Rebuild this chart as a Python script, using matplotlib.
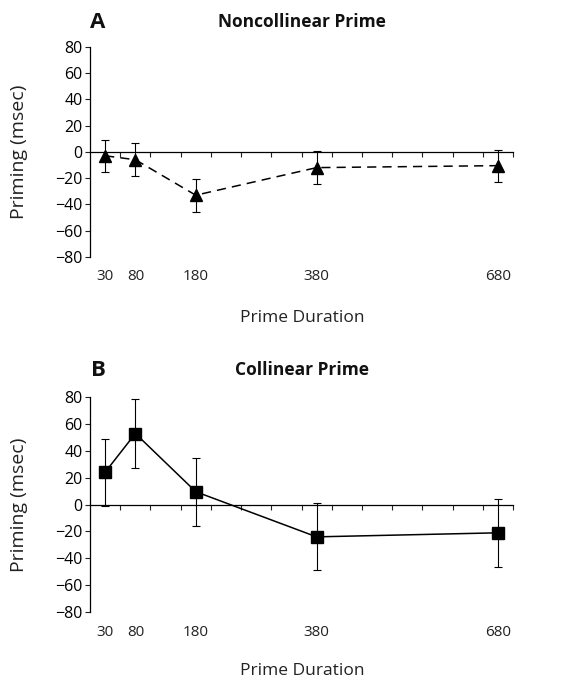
import numpy as np
import matplotlib.pyplot as plt
from matplotlib import transforms

plt.rcParams['font.family'] = ['Open Sans', 'DejaVu Sans']

# Data
durations = [30, 80, 180, 380, 680]
noncollinear = [-3, -6, -33, -12, -10.5]
noncollinear_err = [12.3, 12.6, 12.7, 12.3, 12.2]
collinear = [24, 52.7, 9.5, -24, -21]
collinear_err = [24.8, 25.3, 25.3, 24.9, 25.3]
yticks = [80, 60, 40, 20, 0, -20, -40, -60, -80]

W, H = 570, 684
fig = plt.figure(figsize=(W / 100, H / 100), dpi=100)
ax_a = fig.add_axes([0.158, 0.6243, 0.742, 0.3074])
ax_b = fig.add_axes([0.158, 0.1048, 0.742, 0.3152])


def style_axis(ax, letter, title, title_y, xlabel_y):
    ax.set_xlim(5, 705)
    ax.set_ylim(-80, 80)
    ax.spines['top'].set_visible(False)
    ax.spines['right'].set_visible(False)
    ax.spines['bottom'].set_position(('data', 0))
    ax.spines['left'].set_linewidth(0.9)
    ax.spines['bottom'].set_linewidth(0.9)
    ax.set_yticks(yticks)
    ax.set_yticklabels([str(v).replace('-', '\u2212') for v in yticks], fontsize=11.5)
    ax.set_xticks(np.arange(55, 706, 50))
    ax.set_xticklabels([])
    ax.tick_params(axis='both', direction='out', length=3.5, width=0.8, color='#222222')
    ax.tick_params(axis='y', pad=2)
    trans = transforms.blended_transform_factory(ax.transData, ax.transAxes)
    for d in durations:
        ax.text(d, -0.095, str(d), transform=trans, ha='center', va='center',
                fontsize=11, color='#222222')
    ax.set_ylabel('Priming (msec)', fontsize=14, color='#222222')
    ax.yaxis.set_label_coords(-0.147, 0.5)
    fig.text(302 / W, 1 - title_y / H, title, ha='center', va='center',
             fontsize=12.5, fontweight='bold', color='#111111')
    fig.text(98 / W, 1 - title_y / H, letter, ha='center', va='center',
             fontsize=16, fontweight='bold', color='#111111')
    fig.text(302 / W, 1 - xlabel_y / H, 'Prime Duration', ha='center',
             va='center', fontsize=12.5, color='#222222')


ax_a.errorbar(durations, noncollinear, yerr=noncollinear_err, color='black',
              linestyle=(0, (6, 4)), linewidth=1.1, marker='^', markersize=9,
              elinewidth=0.8, capsize=2.8, capthick=0.8)
style_axis(ax_a, 'A', 'Noncollinear Prime', 22, 318)

ax_b.errorbar(durations, collinear, yerr=collinear_err, color='black',
              linestyle='-', linewidth=1.1, marker='s', markersize=8,
              elinewidth=0.8, capsize=2.8, capthick=0.8)
style_axis(ax_b, 'B', 'Collinear Prime', 370, 671)

fig.savefig('out.png', dpi=100)
